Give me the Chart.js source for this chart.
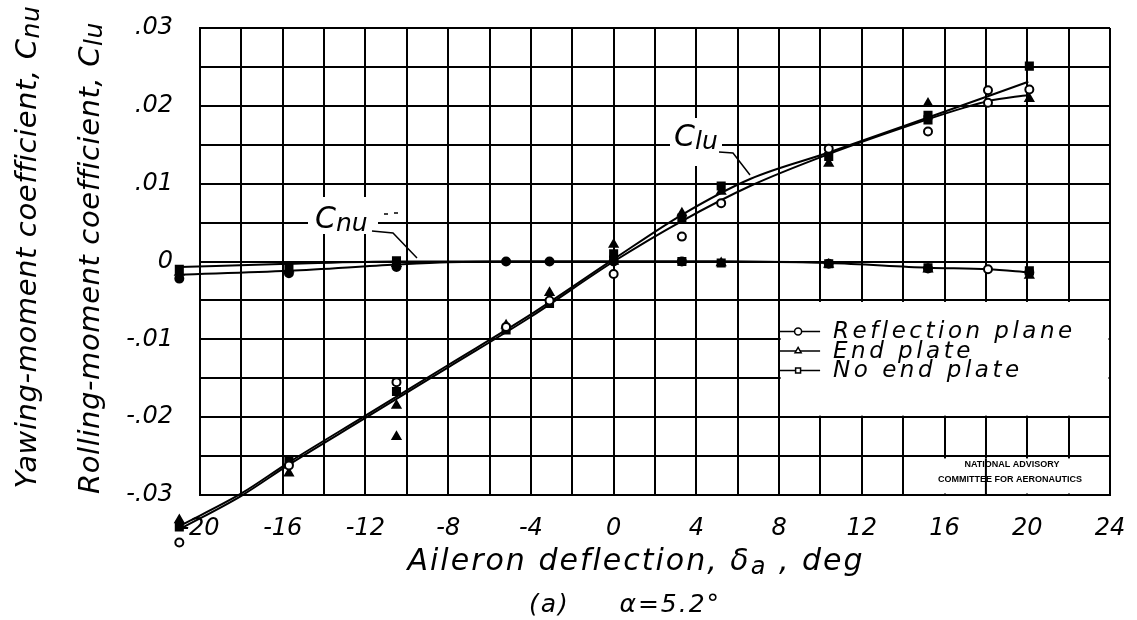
<!DOCTYPE html>
<html><head><meta charset="utf-8">
<script src="https://cdn.jsdelivr.net/npm/chart.js@4/dist/chart.umd.min.js"></script>
<style>html,body{margin:0;padding:0;background:#fff;}canvas{display:block;}</style>
</head><body>
<canvas id="c" width="1137" height="620"></canvas>
<script>
// ---------- data ----------
const configNames = ['Reflection plane', 'End plate', 'No end plate'];
const xTickValues = [-20, -16, -12, -8, -4, 0, 4, 8, 12, 16, 20, 24];
const xTickLabels = ['-20', '-16', '-12', '-8', '-4', '0', '4', '8', '12', '16', '20', '24'];
const yTickValues = [-0.03, -0.02, -0.01, 0, 0.01, 0.02, 0.03];
const yTickLabels = ['-.03', '-.02', '-.01', '0', '.01', '.02', '.03'];

// Rolling-moment coefficient, Clu — test points
const clReflX = [-21, -15.7, -10.5, -5.2, -3.1, 0, 3.3, 5.2, 10.4, 15.2, 18.1, 18.1, 20.1];
const clReflY = [-0.0361, -0.0262, -0.0155, -0.0084, -0.0050, -0.0016, 0.0032, 0.0075, 0.0145, 0.0167, 0.0220, 0.0204, 0.0221];
const clEndX = [-21, -15.7, -10.5, -10.5, -5.2, -3.1, 0, 3.3, 5.2, 10.4, 15.2, 20.1];
const clEndY = [-0.0332, -0.0272, -0.0185, -0.0225, -0.0082, -0.0040, 0.0022, 0.0062, 0.0090, 0.0126, 0.0203, 0.0209];
const clNoX = [-21, -15.7, -10.5, -5.2, -3.1, 0, 3.3, 5.2, 10.4, 15.2, 15.2, 20.1];
const clNoY = [-0.0341, -0.0256, -0.0167, -0.0088, -0.0054, 0.0010, 0.0056, 0.0097, 0.0135, 0.0188, 0.0182, 0.0251];

// Yawing-moment coefficient, Cnu — test points
const cnReflX = [-21, -15.7, -10.5, -5.2, -3.1, 0, 3.3, 10.4, 15.2, 18.1, 20.1];
const cnReflY = [-0.0022, -0.0015, -0.0007, 0.0000, 0.0000, 0.0000, 0.0000, -0.0003, -0.0009, -0.0010, -0.0014];
const cnEndX = [-21, -15.7, -10.5, 0, 5.2, 10.4, 15.2, 20.1];
const cnEndY = [-0.0014, -0.0010, -0.0003, 0.0000, -0.0002, -0.0004, -0.0010, -0.0018];
const cnNoX = [-21, -15.7, -10.5, 0, 3.3, 5.2, 10.4, 15.2, 20.1];
const cnNoY = [-0.0010, -0.0006, 0.0001, 0.0002, 0.0000, -0.0002, -0.0003, -0.0008, -0.0012];

// faired curves
const clFairAX = [-21, -18, -15.7, -12, -8, -4, 0, 3.3, 6.6, 10.4, 15, 20.05];
const clFairAY = [-0.0340, -0.0298, -0.0258, -0.0198, -0.0133, -0.0068, 0.0003, 0.0060, 0.0106, 0.0140, 0.0183, 0.0231];
const clFairBX = [-21, -18, -15.7, -12, -8, -4, 0, 3.3, 6.6, 10.4, 15, 17, 18.1, 20.05];
const clFairBY = [-0.0344, -0.0301, -0.0261, -0.0201, -0.0136, -0.0071, 0.0000, 0.0052, 0.0097, 0.0138, 0.0181, 0.0198, 0.0206, 0.0214];
const cnFairAX = [-21, -15.7, -10.5, -8, -5, 0, 5.2, 10.4, 15.2, 18.1, 20.1];
const cnFairAY = [-0.0017, -0.0012, -0.0004, -0.0001, 0.0000, 0.0000, 0.0000, -0.0002, -0.0008, -0.0010, -0.0014];
const cnFairBX = [-21, -15.7, -10.5, -5, 0, 5.2, 10.4];
const cnFairBY = [-0.0007, -0.0003, 0.0000, 0.0000, 0.0000, 0.0000, -0.0001];

// ---------- helpers ----------
const pts = (xs, ys) => xs.map((x, i) => ({x: x, y: ys[i]}));
const FONT = '"DejaVu Sans", sans-serif';

function curve(xs, ys) {
  return {type: 'line', data: pts(xs, ys), borderColor: '#000', borderWidth: 2, pointRadius: 0,
    showLine: true, fill: false, cubicInterpolationMode: 'monotone', clip: false, order: 2};
}
function marks(xs, ys, style, fill, r) {
  return {type: 'scatter', data: pts(xs, ys), pointStyle: style, pointRadius: r,
    pointBackgroundColor: fill, pointBorderColor: '#000', pointBorderWidth: 2,
    showLine: false, clip: false, order: 1, isMarks: true};
}

function drawRuns(ctx, runs, x, y, align, spacing) {
  ctx.letterSpacing = (spacing || 0) + 'px';
  let w = 0;
  runs.forEach(r => { ctx.font = 'italic ' + r[1] + 'px ' + FONT; w += ctx.measureText(r[0]).width; });
  let cx = align === 'center' ? x - w / 2 : (align === 'right' ? x - w : x);
  ctx.textAlign = 'left';
  runs.forEach(r => {
    ctx.font = 'italic ' + r[1] + 'px ' + FONT;
    ctx.fillText(r[0], cx, y + r[2]);
    cx += ctx.measureText(r[0]).width;
  });
  ctx.letterSpacing = '0px';
}

const paper = {
  id: 'paper',
  beforeDraw(chart) {
    const ctx = chart.ctx;
    ctx.save(); ctx.fillStyle = '#fff'; ctx.fillRect(0, 0, chart.width, chart.height); ctx.restore();
  },
  beforeDatasetsDraw(chart) {
    const ctx = chart.ctx, xs = chart.scales.x, ys = chart.scales.y;
    ctx.save();
    ctx.fillStyle = '#fff';
    // legend panel
    const L = xs.getPixelForValue(8), R = xs.getPixelForValue(24);
    const T = ys.getPixelForValue(-0.005), B = ys.getPixelForValue(-0.02);
    ctx.fillRect(L + 1.5, T + 1.5, R - L - 3, B - T - 3);
    // NACA note panel
    const nL = xs.getPixelForValue(15.7), nR = xs.getPixelForValue(22.5);
    const nT = ys.getPixelForValue(-0.0253), nB = ys.getPixelForValue(-0.03);
    ctx.fillRect(nL, nT, nR - nL, nB - nT - 1.5);
    ctx.strokeStyle = '#000'; ctx.lineWidth = 2;
    const x18 = xs.getPixelForValue(18);
    ctx.beginPath(); ctx.moveTo(x18, nT); ctx.lineTo(x18, nB); ctx.stroke();
    // label backgrounds
    ctx.fillRect(308, 197, 70, 37);
    ctx.fillRect(670, 118, 52, 48);
    ctx.restore();
  },
  afterDatasetsDraw(chart) {
    // Chart.js skips points outside the chart area; draw those (x = -21) here from their elements
    const ctx = chart.ctx, a = chart.chartArea;
    ctx.save();
    chart.data.datasets.forEach((ds, i) => {
      if (!ds.isMarks) return;
      chart.getDatasetMeta(i).data.forEach(el => {
        if (el.x >= a.left - 0.5 && el.x <= a.right + 0.5 && el.y >= a.top - 0.5 && el.y <= a.bottom + 0.5) return;
        const o = el.options;
        ctx.strokeStyle = o.borderColor; ctx.lineWidth = o.borderWidth; ctx.fillStyle = o.backgroundColor;
        Chart.helpers.drawPoint(ctx, o, el.x, el.y);
      });
    });
    ctx.restore();
  },
  afterDraw(chart) {
    const ctx = chart.ctx, xs = chart.scales.x, ys = chart.scales.y;
    ctx.save();
    ctx.fillStyle = '#000'; ctx.strokeStyle = '#000';
    ctx.textBaseline = 'middle';
    // y-axis titles
    ctx.save(); ctx.translate(28, 247); ctx.rotate(-Math.PI / 2);
    drawRuns(ctx, [['Yawing-moment coefficient, C', 29, 0], ['nu', 25, 4]], 0, 0, 'center', 0.6);
    ctx.restore();
    ctx.save(); ctx.translate(91, 258); ctx.rotate(-Math.PI / 2);
    drawRuns(ctx, [['Rolling-moment coefficient, C', 29, 0], ['lu', 25, 4]], 0, 0, 'center', 0.6);
    ctx.restore();
    // x-axis title and caption
    ctx.textBaseline = 'alphabetic';
    drawRuns(ctx, [['Aileron deflection, δ', 30, 0], ['a', 24, 4], [' , deg', 30, 0]], 636, 570, 'center', 2);
    drawRuns(ctx, [['(a)     α=5.2°', 25, 0]], 625, 612, 'center', 2);
    // curve labels with leaders
    drawRuns(ctx, [['C', 30, 0], ['nu', 25, 3]], 315, 228, 'left', 0);
    ctx.lineWidth = 1.5;
    ctx.beginPath(); ctx.moveTo(372, 231); ctx.lineTo(393, 233); ctx.lineTo(417, 258); ctx.stroke();
    ctx.beginPath(); ctx.moveTo(384, 214); ctx.lineTo(388, 214); ctx.moveTo(394, 213); ctx.lineTo(398, 213); ctx.stroke();
    drawRuns(ctx, [['C', 30, 0], ['lu', 25, 3]], 674, 146, 'left', 0);
    ctx.beginPath(); ctx.moveTo(719, 152); ctx.lineTo(733, 153); ctx.lineTo(750, 175); ctx.stroke();
    // legend
    const L = xs.getPixelForValue(8), T = ys.getPixelForValue(-0.005);
    const styles = ['circle', 'triangle', 'rect'];
    ctx.textBaseline = 'middle';
    configNames.forEach((name, i) => {
      const y = T + 31 + i * 19.5;
      ctx.lineWidth = 1.5;
      ctx.beginPath(); ctx.moveTo(L, y); ctx.lineTo(L + 41, y); ctx.stroke();
      ctx.fillStyle = '#fff'; ctx.lineWidth = 1.5;
      Chart.helpers.drawPoint(ctx, {pointStyle: styles[i], radius: 3.5, rotation: 0, borderWidth: 1.5}, L + 19, y);
      ctx.fillStyle = '#000';
      ctx.font = 'italic 23px ' + FONT;
      ctx.letterSpacing = '3.5px';
      ctx.textAlign = 'left';
      ctx.fillText(name, L + 54, y + 1);
      ctx.letterSpacing = '0px';
    });
    // NACA note
    ctx.font = 'bold 9px "Liberation Sans Narrow", "Liberation Sans", sans-serif';
    ctx.textAlign = 'center';
    ctx.fillText('NATIONAL ADVISORY', 1012, 465);
    ctx.fillText('COMMITTEE FOR AERONAUTICS', 1010, 480);
    ctx.restore();
  }
};

// yawing-moment circles look filled in the scan except the one near 18 deg
const cnCircleFill = c => (c.raw && c.raw.x > 18 && c.raw.x < 19) ? '#fff' : '#000';

new Chart(document.getElementById('c'), {
  type: 'scatter',
  data: {
    datasets: [
      curve(clFairAX, clFairAY), curve(clFairBX, clFairBY),
      curve(cnFairAX, cnFairAY), curve(cnFairBX, cnFairBY),
      marks(clReflX, clReflY, 'circle', '#fff', 4), marks(clEndX, clEndY, 'triangle', '#000', 4.5), marks(clNoX, clNoY, 'rect', '#000', 5),
      marks(cnReflX, cnReflY, 'circle', cnCircleFill, 4), marks(cnEndX, cnEndY, 'triangle', '#000', 4.5), marks(cnNoX, cnNoY, 'rect', '#000', 5)
    ]
  },
  options: {
    responsive: false, animation: false, devicePixelRatio: 1,
    layout: {padding: {left: 0, top: 28, right: 27, bottom: 0}},
    elements: {line: {capBezierPoints: false}},
    plugins: {legend: {display: false}, tooltip: {enabled: false}},
    scales: {
      x: {
        type: 'linear', min: -20, max: 24,
        afterFit(s) { s.height = 125; s.paddingLeft = 0; s.paddingRight = 0; },
        grid: {color: '#000', lineWidth: 2, drawTicks: false},
        border: {color: '#000', width: 2},
        ticks: {
          stepSize: 2, padding: 19, color: '#000', maxRotation: 0, autoSkip: false,
          font: {family: FONT, size: 24, style: 'italic'},
          callback(v) { const i = xTickValues.findIndex(t => Math.abs(t - v) < 1e-9); return i >= 0 ? xTickLabels[i] : ''; }
        }
      },
      y: {
        type: 'linear', min: -0.03, max: 0.03,
        afterFit(s) { s.width = 200; s.paddingTop = 0; s.paddingBottom = 0; },
        grid: {color: '#000', lineWidth: 2, drawTicks: false},
        border: {color: '#000', width: 2},
        ticks: {
          stepSize: 0.005, padding: 27, color: '#000', autoSkip: false,
          font: {family: FONT, size: 24, style: 'italic'},
          callback(v) { const i = yTickValues.findIndex(t => Math.abs(t - v) < 1e-9); return i >= 0 ? yTickLabels[i] : ''; }
        }
      }
    }
  },
  plugins: [paper]
});
</script>
</body></html>
